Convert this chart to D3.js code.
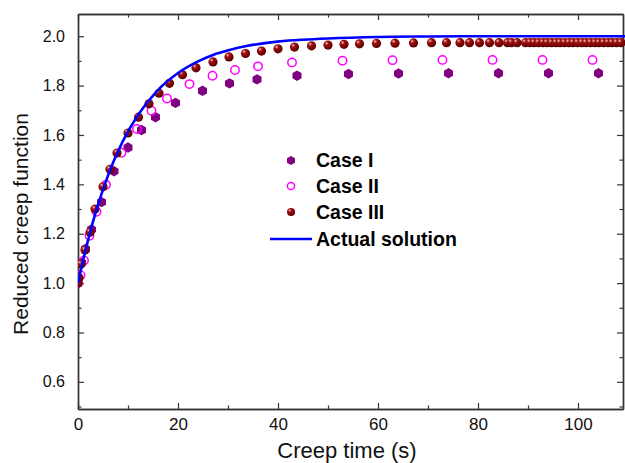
<!DOCTYPE html>
<html>
<head>
<meta charset="utf-8">
<script src="https://cdn.jsdelivr.net/npm/d3@7"></script>
<style>
  body { margin: 0; background: #fff; }
  text { font-family: Arial, "Liberation Sans", sans-serif; }
</style>
</head>
<body>
<div id="chart"></div>
<script>
// Case I (purple hexagons)
const case1T = [0, 0.7, 1.5, 2.7, 4.7, 7.2, 10.0, 12.7, 15.5, 19.5, 24.9, 30.3, 35.8, 43.8, 54.1, 64.1, 74.1, 84.1, 94.1, 104.1];
const case1V = [1.0, 1.082, 1.138, 1.217, 1.328, 1.453, 1.549, 1.62, 1.672, 1.73, 1.779, 1.809, 1.825, 1.84, 1.847, 1.849, 1.85, 1.85, 1.85, 1.85];

// Case II (magenta open circles)
const case2T = [0, 0.5, 1.2, 2.3, 3.7, 5.6, 8.7, 11.8, 14.7, 17.8, 22.3, 26.9, 31.4, 36.0, 42.8, 52.9, 62.9, 72.9, 82.9, 92.9, 102.9];
const case2V = [1.0, 1.032, 1.092, 1.192, 1.289, 1.398, 1.528, 1.624, 1.698, 1.748, 1.806, 1.84, 1.863, 1.878, 1.894, 1.901, 1.903, 1.904, 1.904, 1.904, 1.904];

// Case III (dark red spheres)
const case3T = [0, 0.2, 0.6, 1.4, 2.4, 3.4, 5.0, 6.4, 7.8, 10.0, 12.1, 14.2, 16.2, 18.3, 20.9, 23.6, 27.0, 30.2, 33.5, 36.7,
  40.0, 43.3, 46.7, 50.0, 53.2, 56.3, 59.7, 63.4, 67.1, 70.7, 73.7, 76.4, 78.3, 80.3, 82.3, 84.2, 85.9, 86.7, 87.8,
  89.5, 90.4, 91.2, 92.1, 93.0, 93.8, 94.7, 95.6, 96.4, 97.3, 98.2, 99.0, 99.9, 100.8, 101.6, 102.5, 103.4, 104.2,
  105.1, 106.0, 106.8, 107.7, 108.6];
const case3V = [1.0, 1.022, 1.077, 1.134, 1.206, 1.3, 1.39, 1.461, 1.527, 1.608, 1.672, 1.726, 1.769, 1.809, 1.844, 1.872, 1.896, 1.916, 1.93, 1.94,
  1.949, 1.956, 1.961, 1.964, 1.967, 1.969, 1.971, 1.972, 1.973, 1.974, 1.974, 1.974, 1.974, 1.974, 1.974, 1.974, 1.974, 1.974, 1.974,
  1.974, 1.974, 1.974, 1.974, 1.974, 1.974, 1.974, 1.974, 1.974, 1.974, 1.974, 1.974, 1.974, 1.974, 1.974, 1.974, 1.974, 1.974,
  1.974, 1.974, 1.974, 1.974, 1.974];

// Actual solution (blue line)
const actualT = [0, 1, 2, 3, 4, 5.4, 7, 9, 12, 15.7, 20.3, 23.7, 27, 30.3, 33.7, 37, 40.3, 45, 50, 60, 70, 80, 90, 100, 110];
const actualV = [1.0, 1.091, 1.173, 1.249, 1.317, 1.402, 1.487, 1.576, 1.681, 1.776, 1.855, 1.895, 1.924, 1.944, 1.96, 1.971, 1.979, 1.986, 1.991, 1.997, 1.999, 2.0, 2.0, 2.0, 2.0];

const xTicks = [0, 20, 40, 60, 80, 100];
const xMinor = [10, 30, 50, 70, 90];
const yTicks = [0.6, 0.8, 1.0, 1.2, 1.4, 1.6, 1.8, 2.0];
const yMinor = [0.5, 0.7, 0.9, 1.1, 1.3, 1.5, 1.7, 1.9];
const legendLabels = ["Case I", "Case II", "Case III", "Actual solution"];

const w = 625, h = 463;
const padL = 78, padR = 623, padT = 14, padB = 409;

const svg = d3.select("#chart").append("svg")
  .attr("width", w).attr("height", h);

const defs = svg.append("defs");
const grad = defs.append("radialGradient").attr("id", "sphere")
  .attr("cx", "35%").attr("cy", "30%").attr("r", "70%");
grad.append("stop").attr("offset", "0%").attr("stop-color", "#f4c8c0");
grad.append("stop").attr("offset", "30%").attr("stop-color", "#a01010");
grad.append("stop").attr("offset", "100%").attr("stop-color", "#5a0000");

const x = d3.scaleLinear().domain([0, 109]).range([padL, padR]);
const y = d3.scaleLinear().domain([0.49, 2.09]).range([padB, padT]);

const axisColor = "#333";

function drawAxis(axis, tx, ty, labels) {
  const g = svg.append("g").attr("transform", `translate(${tx},${ty})`).call(axis);
  g.selectAll(".domain").attr("stroke", axisColor).attr("stroke-width", 1.4);
  g.selectAll(".tick line").attr("stroke", axisColor).attr("stroke-width", 1.2);
  if (!labels) g.selectAll(".tick text").remove();
  return g;
}

// bottom
const gx = drawAxis(d3.axisBottom(x).tickValues(xTicks).tickSizeInner(-6).tickSizeOuter(0).tickPadding(9).tickFormat(d3.format("d")), 0, padB, true);
gx.selectAll(".tick text").attr("font-size", 17).attr("fill", "#111");
drawAxis(d3.axisBottom(x).tickValues(xMinor).tickSizeInner(-3.5).tickSizeOuter(0), 0, padB, false);
// top
drawAxis(d3.axisTop(x).tickValues(xTicks).tickSizeInner(-6).tickSizeOuter(0), 0, padT, false);
drawAxis(d3.axisTop(x).tickValues(xMinor).tickSizeInner(-3.5).tickSizeOuter(0), 0, padT, false);
// left
const gy = drawAxis(d3.axisLeft(y).tickValues(yTicks).tickSizeInner(-6).tickSizeOuter(0).tickPadding(13).tickFormat(d3.format(".1f")), padL, 0, true);
gy.selectAll(".tick text").attr("font-size", 16).attr("fill", "#111");
drawAxis(d3.axisLeft(y).tickValues(yMinor).tickSizeInner(-3.5).tickSizeOuter(0), padL, 0, false);
// right
drawAxis(d3.axisRight(y).tickValues(yTicks).tickSizeInner(-6).tickSizeOuter(0), padR, 0, false);
drawAxis(d3.axisRight(y).tickValues(yMinor).tickSizeInner(-3.5).tickSizeOuter(0), padR, 0, false);

// axis titles
svg.append("text").attr("x", 347).attr("y", 458)
  .attr("text-anchor", "middle").attr("font-size", 22).attr("fill", "#111").text("Creep time (s)");
svg.append("text").attr("transform", "translate(28,224) rotate(-90)")
  .attr("text-anchor", "middle").attr("font-size", 21).attr("fill", "#111").text("Reduced creep function");

svg.append("clipPath").attr("id", "clip").append("rect")
  .attr("x", padL).attr("y", padT).attr("width", padR - padL + 2).attr("height", padB - padT);

const hexPath = r => {
  const pts = d3.range(6).map(i => {
    const a = Math.PI / 3 * i - Math.PI / 2;
    return [r * Math.cos(a), r * Math.sin(a)];
  });
  return "M" + pts.map(p => p.join(",")).join("L") + "Z";
};

function drawHex(sel, r) {
  sel.append("path").attr("d", hexPath(r)).attr("fill", "#800080");
}
function drawCircle(sel, r) {
  sel.append("circle").attr("r", r).attr("fill", "none").attr("stroke", "#ff00ff").attr("stroke-width", 1.5);
}
function drawSphere(sel, r) {
  sel.append("circle").attr("r", r).attr("fill", "url(#sphere)");
}

const marks = svg.append("g").attr("clip-path", "url(#clip)");

marks.append("g").selectAll("g").data(case1T).join("g")
  .attr("transform", (d, i) => `translate(${x(d)},${y(case1V[i])})`)
  .each(function () { drawHex(d3.select(this), 5.2); });

marks.append("g").selectAll("g").data(case2T).join("g")
  .attr("transform", (d, i) => `translate(${x(d)},${y(case2V[i])})`)
  .each(function () { drawCircle(d3.select(this), 4.2); });

marks.append("g").selectAll("g").data(case3T).join("g")
  .attr("transform", (d, i) => `translate(${x(d)},${y(case3V[i])})`)
  .each(function () { drawSphere(d3.select(this), 4.6); });

const line = d3.line().x(d => x(d)).y((d, i) => y(actualV[i])).curve(d3.curveMonotoneX);
marks.append("path").datum(actualT).attr("d", line)
  .attr("fill", "none").attr("stroke", "#0000ff").attr("stroke-width", 2.6);

// legend
const legend = svg.append("g");
const legendY = [160.5, 186, 212, 239];
legendLabels.forEach((lab, i) => {
  const g = legend.append("g").attr("transform", `translate(291,${legendY[i]})`);
  if (i === 0) drawHex(g, 4.6);
  if (i === 1) drawCircle(g, 3.6);
  if (i === 2) drawSphere(g, 4);
  if (i === 3) g.append("line").attr("x1", -21).attr("x2", 21).attr("stroke", "#0000ff").attr("stroke-width", 2.6);
  legend.append("text").attr("x", 316).attr("y", legendY[i] + 6.5)
    .attr("font-size", 19.5).attr("font-weight", "bold").attr("fill", "#000").text(lab);
});
</script>
</body>
</html>
